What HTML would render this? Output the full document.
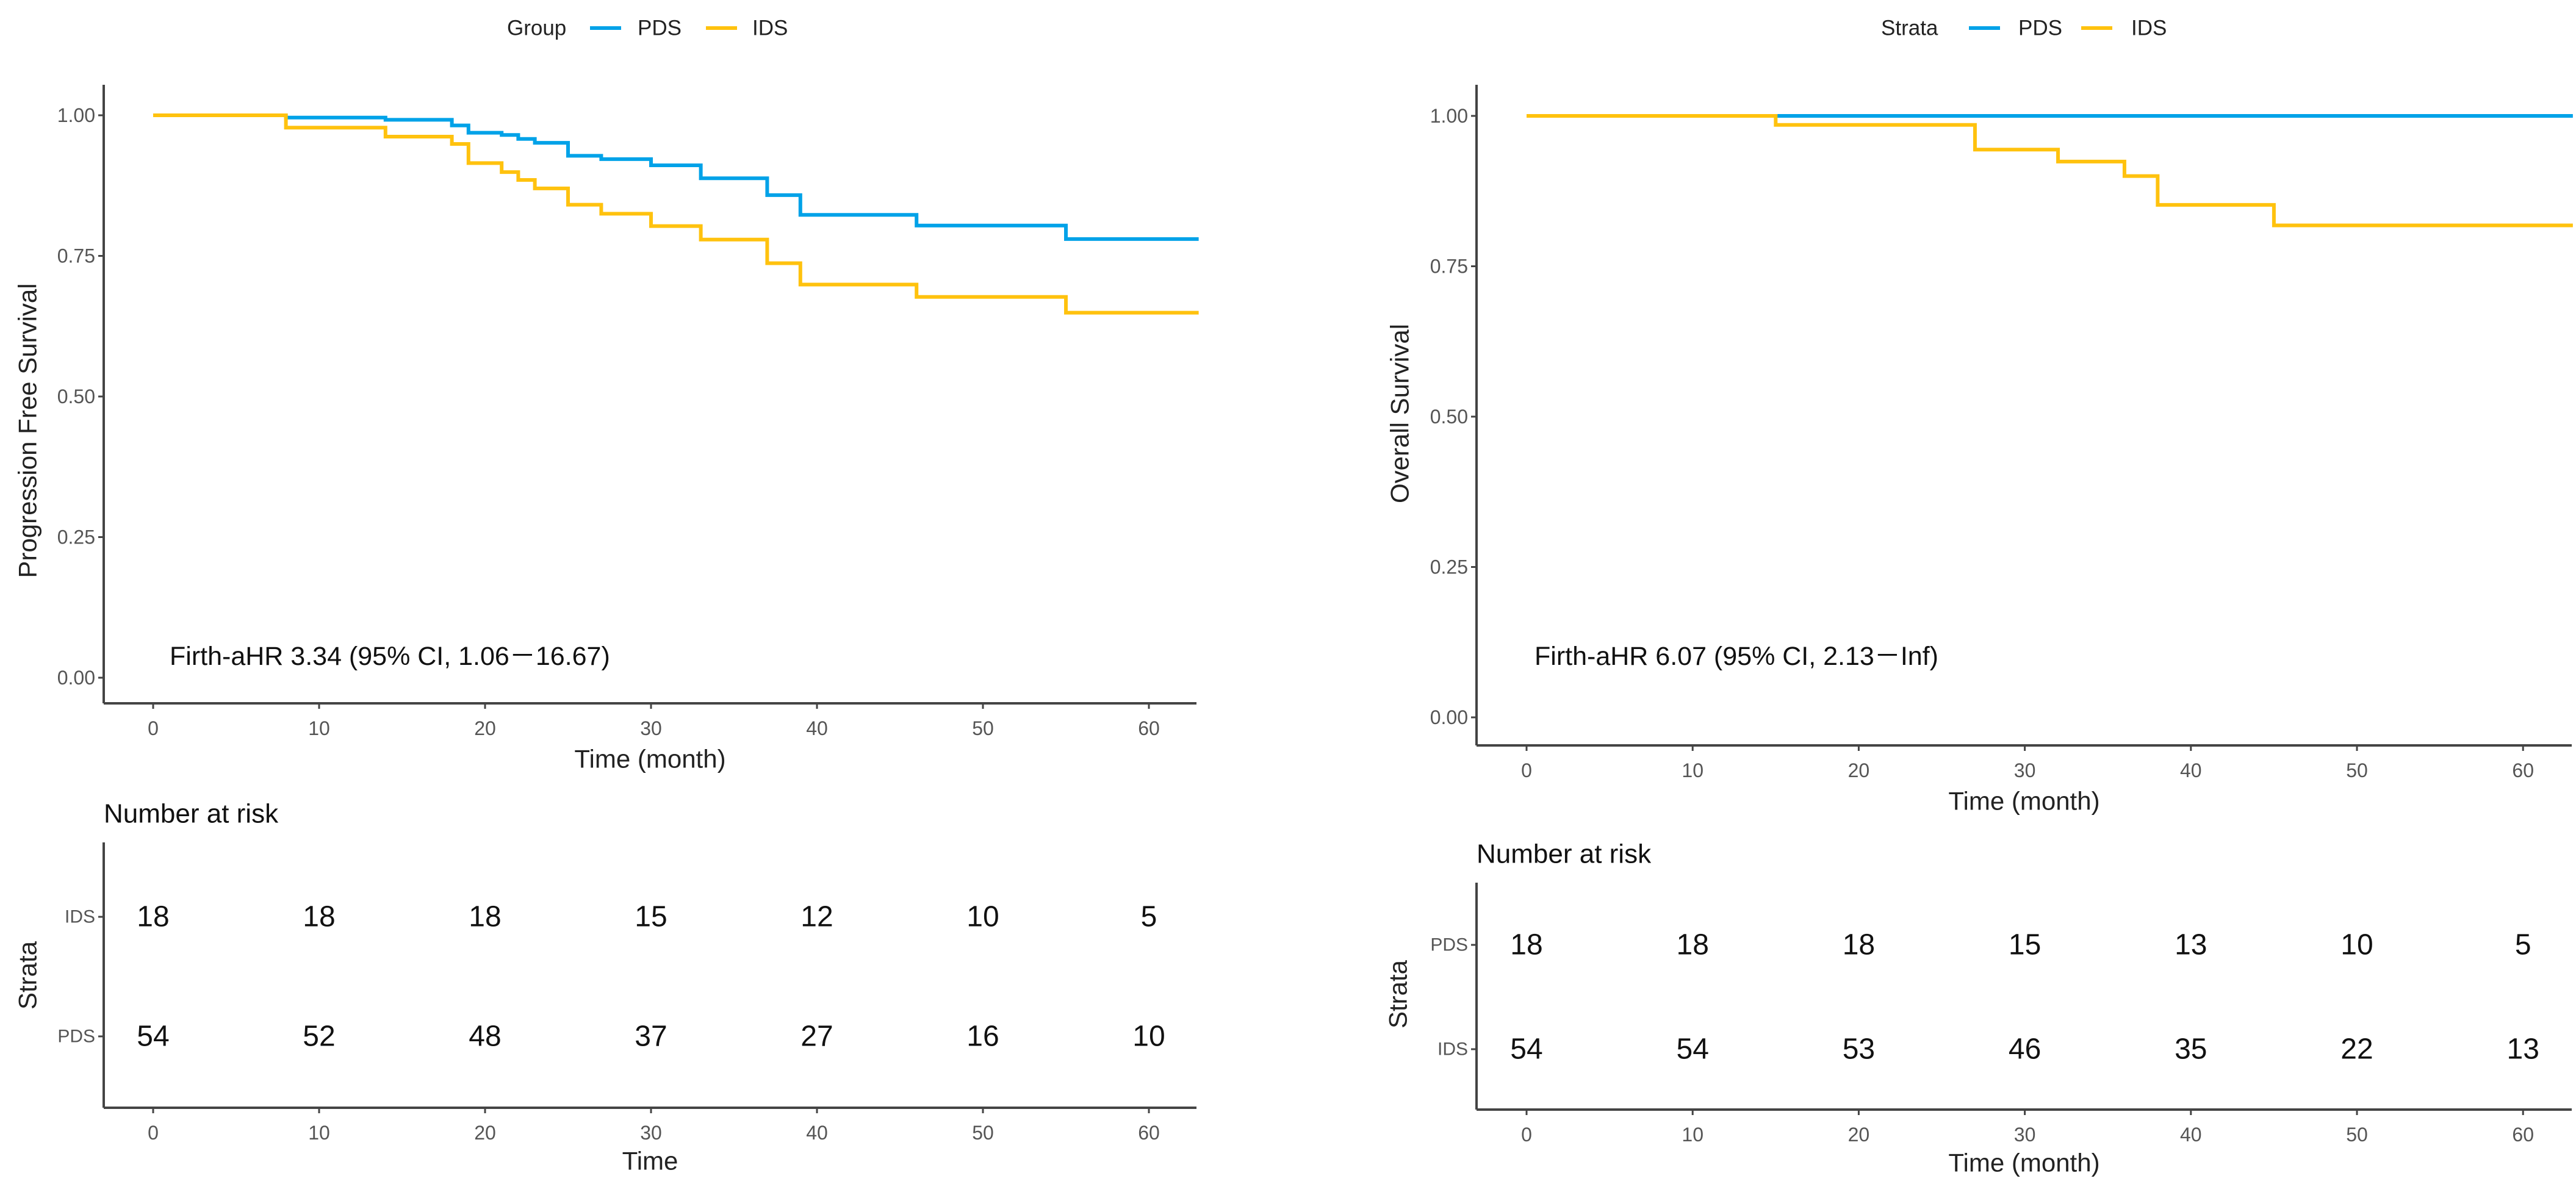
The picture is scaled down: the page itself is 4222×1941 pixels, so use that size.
<!DOCTYPE html>
<html><head><meta charset="utf-8"><style>
html,body{margin:0;padding:0;background:#fff;}
svg{display:block;font-family:"Liberation Sans","Noto Sans CJK SC",sans-serif;}
</style></head><body>
<svg id="c" width="4222" height="1941" viewBox="0 0 4222 1941" xmlns="http://www.w3.org/2000/svg"></svg>
<script>
// ---- data ----
const xTicks = [0,10,20,30,40,50,60];
const yTicks = [0,0.25,0.5,0.75,1];
const yTickLabels = ["0.00","0.25","0.50","0.75","1.00"];
const pfsPdsTimes = [0,8,14,18,19,21,22,23,25,27,30,33,37,39,46,55];
const pfsPdsSurv  = [1,0.996,0.992,0.982,0.969,0.965,0.958,0.951,0.928,0.922,0.911,0.888,0.858,0.823,0.804,0.780];
const pfsIdsTimes = [0,8,14,18,19,21,22,23,25,27,30,33,37,39,46,55];
const pfsIdsSurv  = [1,0.978,0.962,0.949,0.915,0.899,0.885,0.870,0.841,0.825,0.803,0.779,0.737,0.699,0.677,0.649];
const osPdsTimes = [0];
const osPdsSurv  = [1];
const osIdsTimes = [0,15,27,32,36,38,45];
const osIdsSurv  = [1,0.985,0.944,0.924,0.900,0.852,0.818];
const pfsRiskIds = ["18","18","18","15","12","10","5"];
const pfsRiskPds = ["54","52","48","37","27","16","10"];
const osRiskPds = ["18","18","18","15","13","10","5"];
const osRiskIds = ["54","54","53","46","35","22","13"];
const tMax = 63;

const svg = document.getElementById('c');
const NS = 'http://www.w3.org/2000/svg';
function mk(tag, attrs, parent){
  const e = document.createElementNS(NS, tag);
  for (const k in attrs) e.setAttribute(k, attrs[k]);
  (parent||svg).appendChild(e);
  return e;
}
function txt(s, x, y, size, fill, anchor, parent){
  const t = mk('text', {x:x, y:y, 'font-size':size, fill:fill, 'text-anchor':anchor||'middle', 'dominant-baseline':'central'}, parent);
  t.textContent = s;
  return t;
}
const BLUE = '#00a2e8', YEL = '#ffc20e', AX = '#444', TK = '#555';

function panel(P){
  const g = mk('g', {});
  
  
  const X = t => P.x0 + (t/10)*P.dx;
  const Y = v => P.y0 - v*(P.y0-P.y1);
  // legend
  const lg = mk('g', {}, g);
  
  
  txt(P.legTitle, P.leg[0], 46, 35, '#222', 'start', lg);
  const l1 = mk('line', {x1:P.leg[1], x2:P.leg[1]+51, y1:46, y2:46, stroke:BLUE, 'stroke-width':6}, lg);
  
  
  txt('PDS', P.leg[2], 46, 35, '#222', 'start', lg);
  const l2 = mk('line', {x1:P.leg[3], x2:P.leg[3]+51, y1:46, y2:46, stroke:YEL, 'stroke-width':6}, lg);
  
  
  txt('IDS', P.leg[4], 46, 35, '#222', 'start', lg);
  // axes
  const ya = mk('line', {x1:P.ax, x2:P.ax, y1:139, y2:P.xb, stroke:AX, 'stroke-width':4}, g);
  
  
  const xa = mk('line', {x1:P.ax, x2:P.xEnd, y1:P.xb, y2:P.xb, stroke:AX, 'stroke-width':4}, g);
  
  
  yTicks.forEach((v,i)=>{
    mk('line', {x1:P.ax-9, x2:P.ax, y1:Y(v), y2:Y(v), stroke:AX, 'stroke-width':3}, g);
    const t = txt(yTickLabels[i], P.ax-14, Y(v), 32, TK, 'end', g);
    
    
  });
  xTicks.forEach(v=>{
    mk('line', {x1:X(v), x2:X(v), y1:P.xb, y2:P.xb+9, stroke:AX, 'stroke-width':3}, g);
    const t = txt(String(v), X(v), P.xb+41, 32, TK, 'middle', g);
    
    
  });
  const xt = txt('Time (month)', (P.ax+P.xEnd)/2, P.xb+91, 42, '#222', 'middle', g);
  
  
  const yt = txt(P.yTitle, 0, 0, 42, '#222', 'middle', g);
  yt.setAttribute('transform', `translate(${P.ytx},${P.yty}) rotate(-90)`);
  
  
  // curves
  P.series.forEach(s=>{
    let d = `M${X(s.t[0])},${Y(s.v[0])}`;
    for (let i=1;i<s.t.length;i++){ d += ` H${X(s.t[i])} V${Y(s.v[i])}`; }
    d += ` H${X(tMax)}`;
    const p = mk('path', {d:d, fill:'none', stroke:s.c, 'stroke-width':6, 'stroke-linejoin':'miter'}, g);
    
    
  });
  const an = txt(P.annot, P.anx, 1076, 43, '#111', 'start', g);
  
  
  // risk table
  const rg = mk('g', {}, g);
  
  
  const rt = txt('Number at risk', P.ax, P.rTitle, 44, '#111', 'start', rg);
  
  
  mk('line', {x1:P.ax, x2:P.ax, y1:P.rTop, y2:P.rBot, stroke:AX, 'stroke-width':4}, rg);
  mk('line', {x1:P.ax, x2:P.xEnd, y1:P.rBot, y2:P.rBot, stroke:AX, 'stroke-width':4}, rg);
  P.rows.forEach(r=>{
    mk('line', {x1:P.ax-9, x2:P.ax, y1:r.y, y2:r.y, stroke:AX, 'stroke-width':3}, rg);
    const rl = txt(r.label, P.ax-14, r.y, 30, TK, 'end', rg);
    
    
    r.vals.forEach((v,i)=>{
      const c = txt(v, X(xTicks[i]), r.y, 48, '#111', 'middle', rg);
      
      
    });
  });
  xTicks.forEach(v=>{
    mk('line', {x1:X(v), x2:X(v), y1:P.rBot, y2:P.rBot+9, stroke:AX, 'stroke-width':3}, rg);
    txt(String(v), X(v), P.rBot+41, 32, TK, 'middle', rg);
  });
  txt(P.rXTitle, (P.ax+P.xEnd)/2, P.rBot+87, 42, '#222', 'middle', rg);
  const st = txt('Strata', 0, 0, 42, '#222', 'middle', rg);
  st.setAttribute('transform', `translate(${P.stx},${P.sty}) rotate(-90)`);
}

panel({name:'pfs-panel', x0:251, dx:272, ax:170, xEnd:1961, xb:1153, y0:1111, y1:189,
  leg:[831,967,1045,1157,1233], legTitle:'Group', yTitle:'Progression Free Survival', ytx:45, yty:706,
  annot:'Firth-aHR 3.34 (95% CI, 1.06－16.67)', anx:278,
  series:[{t:pfsPdsTimes,v:pfsPdsSurv,c:BLUE,name:'pfs-pds-curve'},{t:pfsIdsTimes,v:pfsIdsSurv,c:YEL,name:'pfs-ids-curve'}],
  rTitle:1334, rTop:1381, rBot:1816, rXTitle:'Time',
  rows:[{label:'IDS',y:1503,vals:pfsRiskIds},{label:'PDS',y:1699,vals:pfsRiskPds}], stx:45, sty:1599});

panel({name:'os-panel', x0:2502, dx:272.2, ax:2420, xEnd:4215, xb:1222, y0:1176, y1:190,
  leg:[3083,3227,3308,3411,3493], legTitle:'Strata', yTitle:'Overall Survival', ytx:2294, yty:678,
  annot:'Firth-aHR 6.07 (95% CI, 2.13－Inf)', anx:2515,
  series:[{t:osPdsTimes,v:osPdsSurv,c:BLUE,name:'os-pds-curve'},{t:osIdsTimes,v:osIdsSurv,c:YEL,name:'os-ids-curve'}],
  rTitle:1400, rTop:1447, rBot:1819, rXTitle:'Time (month)',
  rows:[{label:'PDS',y:1549,vals:osRiskPds},{label:'IDS',y:1720,vals:osRiskIds}], stx:2291, sty:1630});
</script>
</body></html>
